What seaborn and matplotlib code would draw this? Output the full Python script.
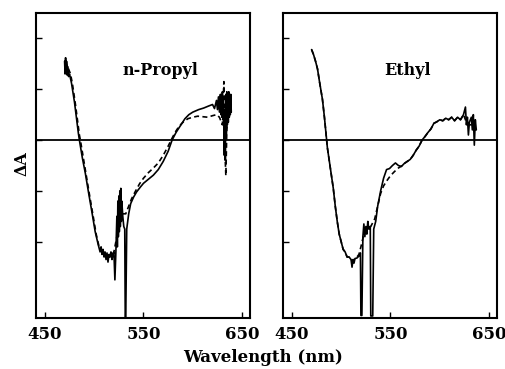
import numpy as np
import pandas as pd
import seaborn as sns
import matplotlib.pyplot as plt

# n-Propyl, solid trace
propyl_wl = [470, 470.5, 471, 471.5, 472, 472.5, 473, 474, 475, 477, 480, 484, 485, 488, 491, 494,
             498, 501, 504, 506, 507, 508, 509, 510, 511, 512, 513, 514, 515, 516, 517, 518, 519,
             520, 521, 522, 523, 523.5, 524, 524.5, 525, 525.5, 526, 526.5, 527, 527.5, 528,
             529, 530, 531, 531.5, 532, 533, 535, 537, 540, 543, 547, 550, 555, 560, 565, 570,
             575, 579, 583, 588, 592, 596, 600, 606, 611, 616, 620, 622, 624, 625, 626, 627,
             628, 628.5, 629, 629.5, 630, 630.5, 631, 631.5, 632, 632.5, 633, 633.5, 634,
             634.5, 635, 635.5, 636, 636.5, 637, 637.5, 638, 638.5, 639]
propyl_solid = [1.55, 1.30, 1.62, 1.35, 1.55, 1.28, 1.45, 1.25, 1.30, 1.12, 0.75, 0.13, 0.0, -0.35,
                -0.65, -1.0, -1.45, -1.8, -2.05, -2.2, -2.1, -2.25, -2.15, -2.3, -2.2, -2.35, -2.22,
                -2.4, -2.25, -2.3, -2.2, -2.35, -2.25, -2.2, -2.75, -2.2, -1.5, -2.1, -1.2, -1.9,
                -1.1, -1.8, -1.0, -1.7, -0.95, -1.6, -1.2, -1.5, -1.7, -1.75, -3.5, -3.5, -1.75,
                -1.45, -1.25, -1.12, -1.02, -0.92, -0.85, -0.77, -0.69, -0.58, -0.42, -0.22, 0.0,
                0.15, 0.3, 0.42, 0.5, 0.55, 0.6, 0.63, 0.67, 0.7, 0.62, 0.78, 0.6, 0.85, 0.55,
                0.9, 0.5, 0.85, 0.45, 0.95, 0.4, 0.8, 0.2, -0.3, 0.6, -0.4, 0.9, 0.1, 0.95, 0.3,
                0.85, 0.35, 0.95, 0.45, 0.85, 0.5, 0.9, 0.55]

# n-Propyl, dashed trace
propyl_wl_d = [470, 472, 474, 476, 478, 481, 485, 486, 489, 492, 495, 499, 502, 505, 508, 511, 514,
               517, 520, 523, 526, 529, 532, 535, 538, 542, 546, 550, 555, 560, 565, 570, 575, 578,
               582, 586, 590, 595, 600, 605, 610, 615, 620, 624, 627, 630, 631.5, 632.5, 633.5,
               634.5, 636, 637.5, 639]
propyl_dash = [1.45, 1.5, 1.4, 1.3, 1.1, 0.7, 0.1, 0.0, -0.35, -0.7, -1.05, -1.5, -1.85, -2.1, -2.2,
               -2.25, -2.3, -2.28, -2.2, -1.9, -1.6, -1.45, -1.45, -1.3, -1.15, -1.0, -0.86, -0.75,
               -0.64, -0.55, -0.45, -0.3, -0.12, 0.0, 0.15, 0.27, 0.35, 0.42, 0.45, 0.47, 0.46,
               0.45, 0.48, 0.5, 0.45, 0.3, 1.15, -0.2, -0.7, 0.2, 0.5, 0.6, 0.7]

# Ethyl, solid trace
ethyl_wl = [470, 472, 474, 476, 478, 481, 483, 485, 486, 489, 492, 494, 496, 498, 500, 502, 504,
            506, 508, 510, 511, 512, 513, 514, 516, 518, 519.5, 520, 521, 522, 523, 524, 525,
            526, 527, 528, 529.5, 530, 531, 532, 533, 535, 537, 540, 543, 546, 549, 552, 555,
            558, 561, 564, 567, 570, 573, 576, 579, 582, 585, 588, 591, 594, 597, 600, 603, 606,
            609, 612, 615, 618, 621, 624, 626, 627, 628, 629, 630, 632, 633, 634, 635, 636, 637]
ethyl_solid = [1.78, 1.68, 1.55, 1.4, 1.15, 0.8, 0.45, 0.05, -0.15, -0.55, -0.95, -1.3, -1.6,
               -1.85, -2.0, -2.15, -2.2, -2.3, -2.3, -2.35, -2.5, -2.35, -2.42, -2.33, -2.32,
               -2.28, -2.22, -3.45, -3.45, -1.9, -1.65, -1.9, -1.7, -1.85, -1.6, -1.75, -1.7,
               -3.46, -3.46, -3.46, -1.75, -1.6, -1.3, -1.0, -0.75, -0.58, -0.56, -0.5, -0.45,
               -0.5, -0.52, -0.46, -0.42, -0.38, -0.3, -0.2, -0.12, 0.0, 0.07, 0.15, 0.22, 0.33,
               0.36, 0.4, 0.38, 0.43, 0.4, 0.45, 0.38, 0.45, 0.4, 0.5, 0.65, 0.3, 0.45, 0.1,
               0.35, 0.45, 0.2, 0.5, -0.1, 0.4, 0.2]

# Ethyl, dashed trace
ethyl_wl_d = [470, 472, 474, 476, 478, 481, 483, 485, 486, 489, 492, 494, 496, 498, 500, 502, 504,
              506, 508, 510, 512, 514, 516, 518, 520, 523, 526, 530, 534, 537, 540, 543, 547, 550,
              554, 558, 562, 564, 567, 570, 573, 576, 579, 582, 585, 588, 591, 594, 597, 600, 603,
              606, 609, 612, 615, 618, 621, 624, 627, 630, 633, 635, 637]
ethyl_dash = [1.78, 1.68, 1.55, 1.4, 1.15, 0.8, 0.45, 0.05, -0.15, -0.55, -0.95, -1.3, -1.6,
              -1.85, -2.0, -2.15, -2.2, -2.3, -2.3, -2.35, -2.38, -2.33, -2.3, -2.25, -2.1,
              -1.85, -1.75, -1.7, -1.55, -1.3, -1.05, -0.9, -0.78, -0.7, -0.62, -0.55, -0.5,
              -0.46, -0.42, -0.38, -0.3, -0.2, -0.12, 0.0, 0.07, 0.15, 0.22, 0.33, 0.36, 0.4,
              0.38, 0.43, 0.4, 0.45, 0.38, 0.45, 0.4, 0.5, 0.35, 0.3, 0.3, 0.2, 0.3]

panels = [
    ("n-Propyl", propyl_wl, propyl_solid, propyl_wl_d, propyl_dash),
    ("Ethyl", ethyl_wl, ethyl_solid, ethyl_wl_d, ethyl_dash),
]

sns.set_style("ticks")
plt.rcParams["font.family"] = ["DejaVu Serif"]
plt.rcParams["font.weight"] = "bold"
plt.rcParams["text.color"] = "black"
plt.rcParams["xtick.color"] = "black"
plt.rcParams["ytick.color"] = "black"

fig = plt.figure(figsize=(5.05, 3.69), dpi=100)
lefts = [36 / 505, 283 / 505]
for (name, wl, solid, wl_d, dash), left in zip(panels, lefts):
    ax = fig.add_axes([left, 51 / 369, 214 / 505, 305 / 369])
    sns.lineplot(x=wl, y=solid, ax=ax, color="black", lw=1.2, estimator=None)
    sns.lineplot(x=wl_d, y=dash, ax=ax, color="black", lw=1.2, estimator=None,
                 linestyle=(0, (3, 2)))
    ax.axhline(0, color="black", lw=1.3)
    ax.set_xlim(441, 658)
    ax.set_ylim(-3.5, 2.5)
    ax.set_xticks([450, 550, 650])
    ax.set_yticks([-2, -1, 0, 1, 2])
    ax.set_yticklabels([])
    ax.tick_params(direction="in", length=4, width=1, labelsize=12, pad=6,
                   labelcolor="black")
    for lab in ax.get_xticklabels():
        lab.set_fontweight("bold")
    for s in ax.spines.values():
        s.set_linewidth(1.5)
        s.set_color("black")
        s.set_visible(True)
    ax.text(0.58, 0.81, name, transform=ax.transAxes, ha="center", va="center",
            fontsize=11.5, fontweight="bold", color="black")

fig.text(22 / 505, 1 - 164 / 369, "ΔA", rotation=90, ha="center", va="center",
         fontsize=11.5, fontweight="bold", color="black")
fig.text(263 / 505, 1 - 357 / 369, "Wavelength (nm)", ha="center", va="center",
         fontsize=12, fontweight="bold", color="black")

fig.savefig("out.png", dpi=100)
